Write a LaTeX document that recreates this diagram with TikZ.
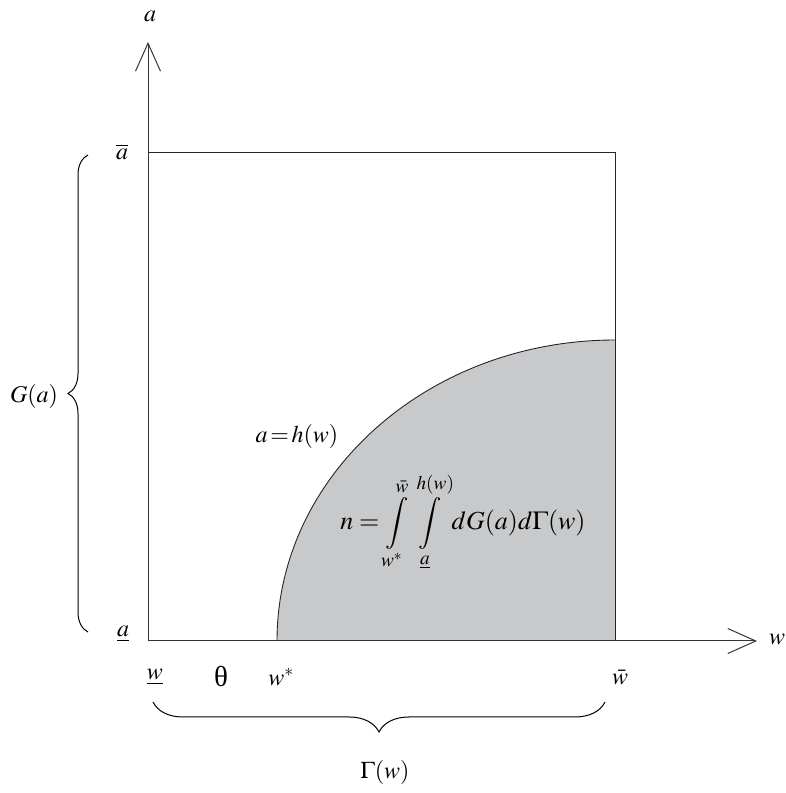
\documentclass[tikz,border=0pt]{standalone}
\usepackage{mathptmx}
\usepackage[no-math]{fontspec}
\setmainfont{Liberation Serif}
\usetikzlibrary{arrows.meta,decorations.pathreplacing}
\definecolor{shadefill}{RGB}{200,201,203}
\begin{document}
\begin{tikzpicture}[x=1pt,y=1pt, font=\fontsize{24}{28}\selectfont,
  axis/.style={draw=black!80, line width=1pt},
  frame/.style={draw=black!85, line width=0.9pt},
  tipv/.style={-{Straight Barb[length=28pt,width=25pt,line width=1pt]}},
  lbl/.style={inner sep=0pt},
  bracestyle/.style={draw=black, line width=1pt, decorate}]
\useasboundingbox (0,0) rectangle (785,793);
\coordinate (O) at (148,152);
\coordinate (Ytip) at (148,751);
\coordinate (Xtip) at (757,152);
\coordinate (TL) at (148,641);
\coordinate (TR) at (615,641);
\coordinate (BR) at (615,152);
\coordinate (Ws) at (277,152);
\fill[shadefill] (Ws) arc[start angle=180,end angle=90,x radius=338,y radius=301] -- (BR) -- cycle;
\draw[frame] (Ws) arc[start angle=180,end angle=90,x radius=338,y radius=301];
\draw[frame] (TL) -- (TR) -- (BR);
\draw[axis,tipv] (O) -- (Ytip);
\draw[axis,tipv] (O) -- (Xtip);
\node[lbl] (la) at (150,777) {$a$};
\node[lbl] (lw) at (777,154) {$w$};
\node[lbl] (abar) at (122,641) {$\overline{a}$};
\node[lbl] (aund) at (123,159) {$\underline{a}$};
\node[lbl] (wund) at (155,116) {$\underline{w}$};
\node[lbl, font=\fontsize{29}{32}\selectfont] (th) at (221,116) {θ};
\node[lbl] (wst) at (281,116) {$w^{*}$};
\node[lbl] (wbar) at (620,116) {$\bar{w}$};
\node[lbl] (Gam) at (385,21) {$\Gamma(w)$};
\node[lbl] (Ga) at (34,396) {$G(a)$};
\node[lbl] (hw) at (297,356) {$a\!=\!h(w)$};
\node[lbl, font=\fontsize{26}{30}\selectfont] (nint) at (463,271) {$n=\displaystyle\int\limits_{w^*}^{\bar w}\int\limits_{\underline{a}}^{h(w)} dG(a)d\Gamma(w)$};
\coordinate (gb1) at (88,161);
\coordinate (gb2) at (88,638);
\draw[bracestyle, decoration={brace,amplitude=20pt}] (gb1) -- (gb2);
\coordinate (wb1) at (605,91);
\coordinate (wb2) at (153,91);
\draw[bracestyle, decoration={brace,amplitude=30pt}] (wb1) -- (wb2);
\end{tikzpicture}
\end{document}
